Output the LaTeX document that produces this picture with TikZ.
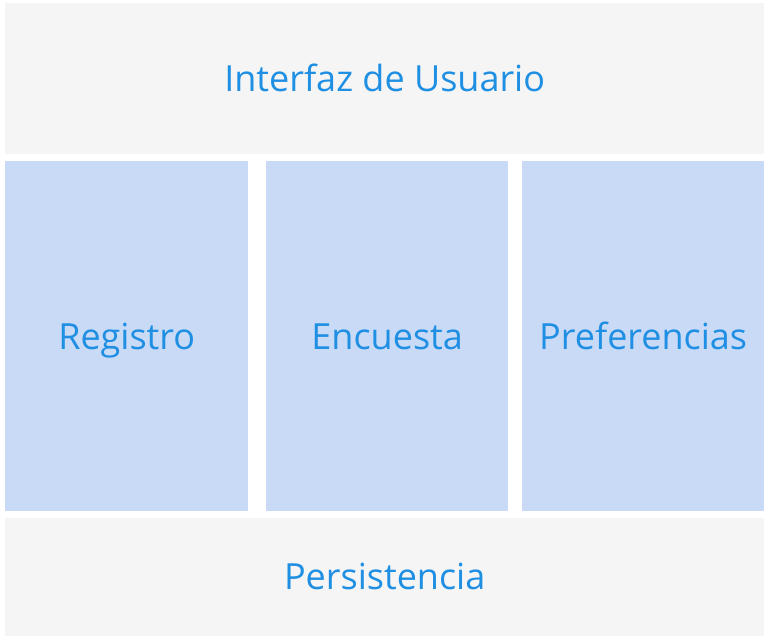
\documentclass[tikz,border=0pt]{standalone}
\usepackage{fontspec}
\setmainfont{Open Sans}
\usetikzlibrary{shapes}

\definecolor{layerGray}{HTML}{F5F5F5}
\definecolor{moduleBlue}{HTML}{C9DAF6}
\definecolor{labelBlue}{HTML}{1E8FE3}

\begin{document}
\begin{tikzpicture}[x = 1pt, y = -1pt]
\tikzstyle{LabelStyle} = [text = labelBlue, font = \fontsize{36}{40}\selectfont, text height = 25.7pt, text depth = 0pt]
\tikzstyle{LayerStyle} = [shape = rectangle, anchor = north west, inner sep = 0pt, fill = layerGray, LabelStyle]
\tikzstyle{ModuleStyle} = [shape = rectangle, anchor = north west, inner sep = 0pt, fill = moduleBlue, LabelStyle]
\useasboundingbox (0, 0) rectangle (774, 639);
\node[LayerStyle, minimum width = 759pt, minimum height = 151pt] (ui) at (5, 3) {Interfaz de Usuario};
\node[ModuleStyle, minimum width = 243pt, minimum height = 350pt] (reg) at (5, 161) {Registro};
\node[ModuleStyle, minimum width = 242pt, minimum height = 350pt] (enc) at (266, 161) {Encuesta};
\node[ModuleStyle, minimum width = 242pt, minimum height = 350pt] (pref) at (522, 161) {Preferencias};
\node[LayerStyle, minimum width = 759pt, minimum height = 117.5pt] (pers) at (5, 518) {Persistencia};
\end{tikzpicture}
\end{document}
